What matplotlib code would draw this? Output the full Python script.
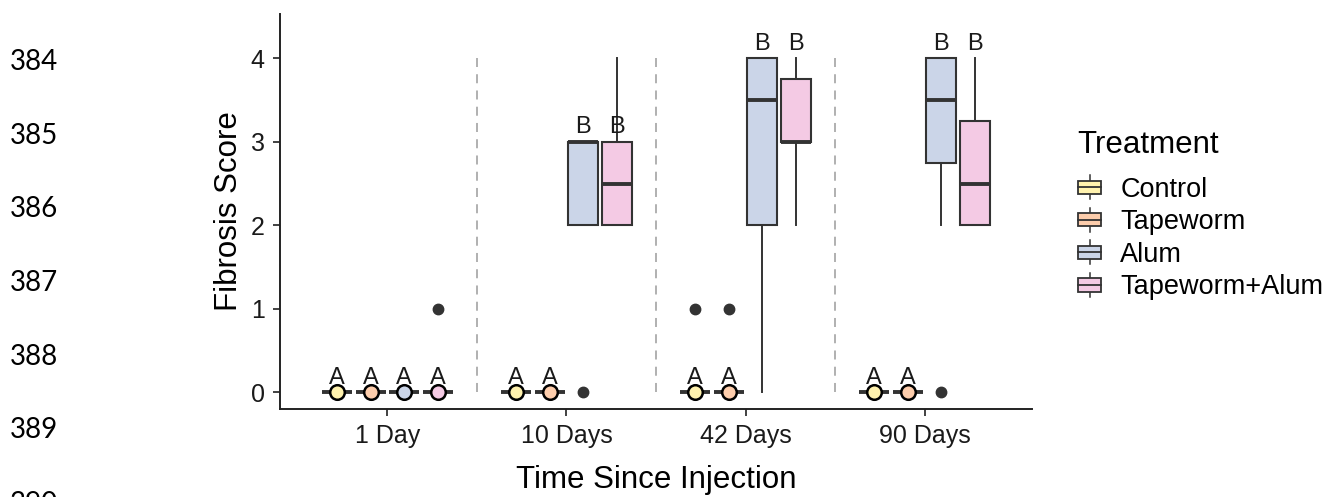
import matplotlib.pyplot as plt
from matplotlib.patches import Rectangle
from matplotlib.lines import Line2D
from matplotlib.legend_handler import HandlerBase

plt.rcParams['font.family'] = ['Liberation Sans', 'DejaVu Sans']

times = ["1 Day", "10 Days", "42 Days", "90 Days"]
treatments = ["Control", "Tapeworm", "Alum", "Tapeworm+Alum"]
colors = ["#FFF2AE", "#FDCDAC", "#CBD5E8", "#F4CAE4"]

# box summaries: rows = time point, columns = treatment
q1 = [[0, 0, 0, 0], [0, 0, 2, 2], [0, 0, 2, 3], [0, 0, 2.75, 2]]
med = [[0, 0, 0, 0], [0, 0, 3, 2.5], [0, 0, 3.5, 3], [0, 0, 3.5, 2.5]]
q3 = [[0, 0, 0, 0], [0, 0, 3, 3], [0, 0, 4, 3.75], [0, 0, 4, 3.25]]
whislo = [[0, 0, 0, 0], [0, 0, 2, 2], [0, 0, 0, 2], [0, 0, 2, 2]]
whishi = [[0, 0, 0, 0], [0, 0, 3, 4], [0, 0, 4, 4], [0, 0, 4, 4]]
fliers = [[[], [], [], [1]],
          [[], [], [0], []],
          [[1], [1], [], []],
          [[], [], [0], []]]
letters = [["A", "A", "A", "A"],
           ["A", "A", "B", "B"],
           ["A", "A", "B", "B"],
           ["A", "A", "B", "B"]]

line_numbers = ["384", "385", "386", "387", "388", "389", "390"]


class BoxKeyHandler(HandlerBase):
    def create_artists(self, legend, orig_handle, xdescent, ydescent,
                       width, height, fontsize, trans):
        w = width * 0.9
        h = height * 0.55
        x0 = -xdescent + (width - w) / 2
        yc = -ydescent + height / 2
        xc = x0 + w / 2
        box = Rectangle((x0, yc - h / 2), w, h, facecolor=orig_handle.get_facecolor(),
                        edgecolor="#333333", lw=1.3, transform=trans)
        mid = Line2D([x0, x0 + w], [yc, yc], color="#333333", lw=1.3, transform=trans)
        top = Line2D([xc, xc], [yc + h / 2, yc + h / 2 + height * 0.22],
                     color="#333333", lw=1.1, transform=trans)
        bot = Line2D([xc, xc], [yc - h / 2, yc - h / 2 - height * 0.22],
                     color="#333333", lw=1.1, transform=trans)
        return [top, bot, box, mid]


fig = plt.figure(figsize=(13.34, 4.97), dpi=100)
ax = fig.add_axes([280 / 1334, 1 - 409 / 497, (1032 - 280) / 1334, (409 - 14) / 497])

dodge = 0.1875
box_w = 0.169
offsets = [(j - 1.5) * dodge for j in range(len(treatments))]

for i, t in enumerate(times):
    stats, pos = [], []
    for j in range(len(treatments)):
        stats.append(dict(q1=q1[i][j], med=med[i][j], q3=q3[i][j],
                          whislo=whislo[i][j], whishi=whishi[i][j],
                          fliers=fliers[i][j]))
        pos.append(i + 1 + offsets[j])
    parts = ax.bxp(stats, positions=pos, widths=box_w, patch_artist=True,
                   showcaps=False, manage_ticks=False,
                   boxprops=dict(edgecolor="#333333", lw=1.5),
                   medianprops=dict(color="#333333", lw=2.8, solid_capstyle="butt"),
                   whiskerprops=dict(color="#333333", lw=1.4),
                   flierprops=dict(marker="o", markerfacecolor="#333333",
                                   markeredgecolor="#333333", markersize=7.5))
    for j, b in enumerate(parts["boxes"]):
        b.set_facecolor(colors[j])
        # collapsed boxes get a filled point on top
        if q1[i][j] == q3[i][j]:
            ax.plot(pos[j], med[i][j], "o", ms=10.5, mfc=colors[j], mec="black",
                    mew=1.8, zorder=5)
    # group letters sit above the highest box sharing that letter
    for j, lab in enumerate(letters[i]):
        top = max(q3[i][k] for k in range(len(treatments)) if letters[i][k] == lab)
        ax.text(pos[j], top + 0.1, lab, ha="center", va="baseline",
                fontsize=17, color="#1a1a1a")

for k in range(len(times) - 1):
    ax.plot([k + 1.5, k + 1.5], [0, 4], color="#aaaaaa", lw=1.3,
            dashes=(5, 4), zorder=0)

ax.set_xlim(0.4, 4.6)
ax.set_ylim(-0.2, 4.53)
ax.set_xticks(range(1, len(times) + 1))
ax.set_xticklabels(times)
ax.set_yticks([0, 1, 2, 3, 4])
ax.tick_params(labelsize=18, colors="#333333", labelcolor="#1a1a1a",
               length=5, width=1.3, pad=6)
for s in ["top", "right"]:
    ax.spines[s].set_visible(False)
for s in ["left", "bottom"]:
    ax.spines[s].set_linewidth(1.4)
    ax.spines[s].set_color("#222222")
ax.set_xlabel("Time Since Injection", fontsize=22.5, labelpad=12)
ax.set_ylabel("Fibrosis Score", fontsize=22.5, labelpad=5)

handles = [Rectangle((0, 0), 1, 1, facecolor=c) for c in colors]
leg = fig.legend(handles, treatments, title="Treatment", loc="upper left",
                 bbox_to_anchor=(1066 / 1334, 1 - 119 / 497), frameon=False,
                 fontsize=19.5, title_fontsize=22.5, handler_map={Rectangle: BoxKeyHandler()},
                 handlelength=0.95, handleheight=1.0, handletextpad=0.65,
                 labelspacing=0.19, borderaxespad=0)
leg._legend_box.align = "left"
leg._legend_box.sep = 11

for n, lab in enumerate(line_numbers):
    fig.text(10 / 1334, 1 - (62 + n * 73.7) / 497, lab, fontsize=20,
             family="Lato", va="center", ha="left", color="black")

fig.savefig("out.png", dpi=100)
